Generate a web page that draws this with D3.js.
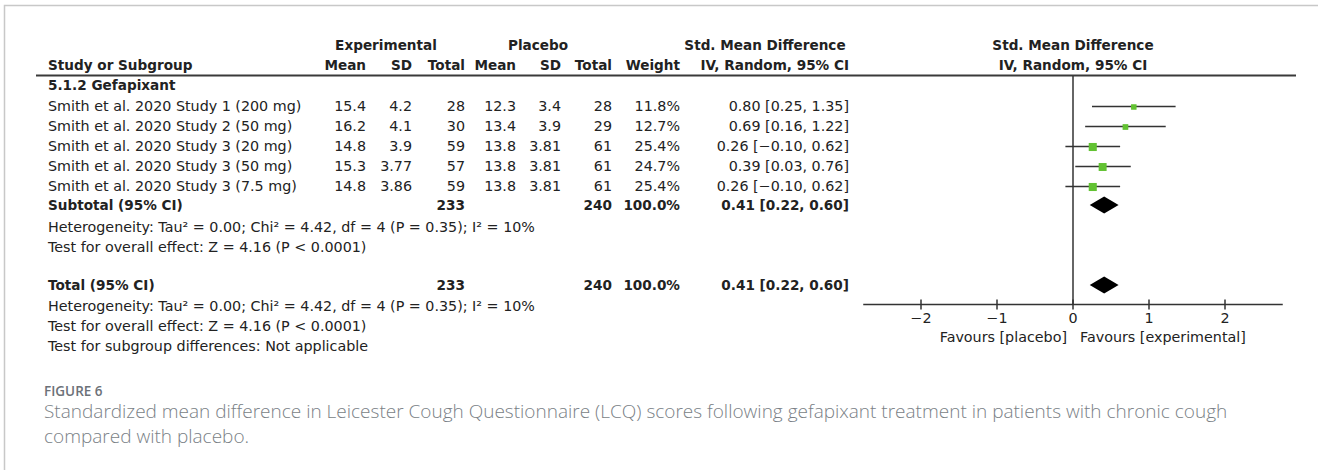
<!DOCTYPE html>
<html>
<head>
<meta charset="utf-8">
<script src="https://cdn.jsdelivr.net/npm/d3@7"></script>
<style>
  html, body { margin: 0; padding: 0; background: #fff; }
  svg { display: block; }
</style>
</head>
<body>
<svg id="chart" width="1326" height="470"></svg>
<script>
// ---- data ----
const studies = [
  "Smith et al. 2020 Study 1 (200 mg)",
  "Smith et al. 2020 Study 2 (50 mg)",
  "Smith et al. 2020 Study 3 (20 mg)",
  "Smith et al. 2020 Study 3 (50 mg)",
  "Smith et al. 2020 Study 3 (7.5 mg)"
];
const expMean   = ["15.4", "16.2", "14.8", "15.3", "14.8"];
const expSD     = ["4.2", "4.1", "3.9", "3.77", "3.86"];
const expTotal  = [28, 30, 59, 57, 59];
const plaMean   = ["12.3", "13.4", "13.8", "13.8", "13.8"];
const plaSD     = ["3.4", "3.9", "3.81", "3.81", "3.81"];
const plaTotal  = [28, 29, 61, 61, 61];
const weights   = [11.8, 12.7, 25.4, 24.7, 25.4];
const smd       = [0.80, 0.69, 0.26, 0.39, 0.26];
const ciLow     = [0.25, 0.16, -0.10, 0.03, -0.10];
const ciHigh    = [1.35, 1.22, 0.62, 0.76, 0.62];

const pooled    = { est: 0.41, lo: 0.22, hi: 0.60, expN: 233, plaN: 240, weight: 100.0 };
const xTicks    = [-2, -1, 0, 1, 2];
const hetText   = "Heterogeneity: Tau\u00B2 = 0.00; Chi\u00B2 = 4.42, df = 4 (P = 0.35); I\u00B2 = 10%";
const effText   = "Test for overall effect: Z = 4.16 (P < 0.0001)";
const subText   = "Test for subgroup differences: Not applicable";
const captionTitle = "FIGURE 6";
const captionLines = [
  "Standardized mean difference in Leicester Cough Questionnaire (LCQ) scores following gefapixant treatment in patients with chronic cough",
  "compared with placebo."
];

// ---- layout ----
const svg = d3.select("#chart");
const FONT = "'DejaVu Sans', 'Liberation Sans', sans-serif";
const FS = 14.3;    // regular table text
const FSB = 13.6;   // bold table text
const ink = "#222";

const fmt2 = d3.format(".2f");
const fmtCI = (e, l, h) => `${fmt2(e)} [${fmt2(l).replace("-", "\u2212")}, ${fmt2(h).replace("-", "\u2212")}]`;

// row index -> vertical position
const rowY = d3.scaleLinear().domain([0, 1]).range([106, 126]);

// effect size -> horizontal position in the plot panel
const x = d3.scaleLinear().domain([-2, 2]).range([921, 1225]);

// frame
svg.append("path")
  .attr("d", "M4.5,470 L4.5,5.5 L1318,5.5")
  .attr("fill", "none").attr("stroke", "#c8c8c8").attr("stroke-width", 1.5);

const g = svg.append("g").attr("font-family", FONT).attr("fill", ink);

function txt(str, xp, yp, anchor = "start", bold = false, parent = g) {
  return parent.append("text")
    .attr("x", xp).attr("y", yp)
    .attr("dy", "0.35em")
    .attr("text-anchor", anchor)
    .attr("font-size", bold ? FSB : FS)
    .attr("font-weight", bold ? "bold" : "normal")
    .text(str);
}

// column right edges
const col = { eMean: 366, eSD: 412, eTot: 465, pMean: 516, pSD: 561, pTot: 612, w: 680, ci: 849 };

// headers
const h1 = 45, h2 = 65;
txt("Experimental", 386, h1, "middle", true);
txt("Placebo", 538, h1, "middle", true);
txt("Std. Mean Difference", 765, h1, "middle", true);
txt("Std. Mean Difference", x(0), h1, "middle", true);
txt("Study or Subgroup", 48, h2, "start", true);
txt("Mean", col.eMean, h2, "end", true);
txt("SD", col.eSD, h2, "end", true);
txt("Total", col.eTot, h2, "end", true);
txt("Mean", col.pMean, h2, "end", true);
txt("SD", col.pSD, h2, "end", true);
txt("Total", col.pTot, h2, "end", true);
txt("Weight", col.w, h2, "end", true);
txt("IV, Random, 95% CI", col.ci, h2, "end", true);
txt("IV, Random, 95% CI", x(0), h2, "middle", true);

// header rule
svg.append("line")
  .attr("x1", 36).attr("x2", 1296).attr("y1", 75.5).attr("y2", 75.5)
  .attr("stroke", "#3a3a3a").attr("stroke-width", 2);

// subgroup label
txt("5.1.2 Gefapixant", 48, 85, "start", true);

// study rows
studies.forEach((s, i) => {
  const y = rowY(i);
  txt(s, 48, y);
  txt(expMean[i], col.eMean, y, "end");
  txt(expSD[i], col.eSD, y, "end");
  txt(expTotal[i], col.eTot, y, "end");
  txt(plaMean[i], col.pMean, y, "end");
  txt(plaSD[i], col.pSD, y, "end");
  txt(plaTotal[i], col.pTot, y, "end");
  txt(d3.format(".1f")(weights[i]) + "%", col.w, y, "end");
  txt(fmtCI(smd[i], ciLow[i], ciHigh[i]), col.ci, y, "end");
});

// subtotal and total rows
const ySub = 205, yTot = 285;
[ySub, yTot].forEach((y, k) => {
  txt(k === 0 ? "Subtotal (95% CI)" : "Total (95% CI)", 48, y, "start", true);
  txt(pooled.expN, col.eTot, y, "end", true);
  txt(pooled.plaN, col.pTot, y, "end", true);
  txt(d3.format(".1f")(pooled.weight) + "%", col.w, y, "end", true);
  txt(fmtCI(pooled.est, pooled.lo, pooled.hi), col.ci, y, "end", true);
});

txt(hetText, 48, 227);
txt(effText, 48, 247);
txt(hetText, 48, 306);
txt(effText, 48, 326);
txt(subText, 48, 346);

// ---- forest plot ----
const axisY = 304.5;
const plot = svg.append("g");

// line of no effect
plot.append("line")
  .attr("x1", x(0)).attr("x2", x(0)).attr("y1", 76).attr("y2", axisY)
  .attr("stroke", "#333").attr("stroke-width", 1.5);

// confidence intervals
plot.selectAll("line.ci").data(studies).join("line")
  .attr("class", "ci")
  .attr("x1", (d, i) => x(ciLow[i])).attr("x2", (d, i) => x(ciHigh[i]))
  .attr("y1", (d, i) => rowY(i) + 0.5).attr("y2", (d, i) => rowY(i) + 0.5)
  .attr("stroke", "#333").attr("stroke-width", 1.4);

// weighted squares
const side = w => 1.6 * Math.sqrt(w);
plot.selectAll("rect.pt").data(studies).join("rect")
  .attr("class", "pt")
  .attr("x", (d, i) => x(smd[i]) - side(weights[i]) / 2)
  .attr("y", (d, i) => rowY(i) + 1 - side(weights[i]) / 2)
  .attr("width", (d, i) => side(weights[i]))
  .attr("height", (d, i) => side(weights[i]))
  .attr("fill", "#62c232");

// pooled diamonds
[ySub, yTot].forEach(y => {
  plot.append("path")
    .attr("d", `M${x(pooled.lo)},${y} L${x(pooled.est)},${y - 8.5} L${x(pooled.hi)},${y} L${x(pooled.est)},${y + 8.5} Z`)
    .attr("fill", "#000");
});

// x axis
plot.append("line")
  .attr("x1", x(-2.76)).attr("x2", x(2.76)).attr("y1", axisY).attr("y2", axisY)
  .attr("stroke", "#333").attr("stroke-width", 1.5);
plot.selectAll("line.tick").data(xTicks).join("line")
  .attr("class", "tick")
  .attr("x1", d => x(d)).attr("x2", d => x(d))
  .attr("y1", axisY - 5).attr("y2", axisY + 5)
  .attr("stroke", "#333").attr("stroke-width", 1.5);
const tl = plot.append("g").attr("font-family", FONT).attr("font-size", FS).attr("fill", ink);
tl.selectAll("text").data(xTicks).join("text")
  .attr("x", d => x(d)).attr("y", 318).attr("dy", "0.35em")
  .attr("text-anchor", "middle")
  .text(d => d < 0 ? "\u2212" + Math.abs(d) : d);
txt("Favours [placebo]", x(0) - 6, 337, "end", false, tl);
txt("Favours [experimental]", x(0) + 7, 337, "start", false, tl);

// ---- caption ----
const cap = svg.append("g").attr("font-family", "'Open Sans', 'Noto Sans', sans-serif");
cap.append("text")
  .attr("x", 44).attr("y", 396)
  .attr("font-size", 13.5).attr("font-weight", 600).attr("fill", "#6c7178")
  .text(captionTitle);
cap.selectAll("text.line").data(captionLines).join("text")
  .attr("class", "line")
  .attr("x", 44).attr("y", (d, i) => 418 + i * 25)
  .attr("font-size", 19).attr("font-weight", 300).attr("fill", "#7a7f86")
  .text(d => d);
</script>
</body>
</html>
